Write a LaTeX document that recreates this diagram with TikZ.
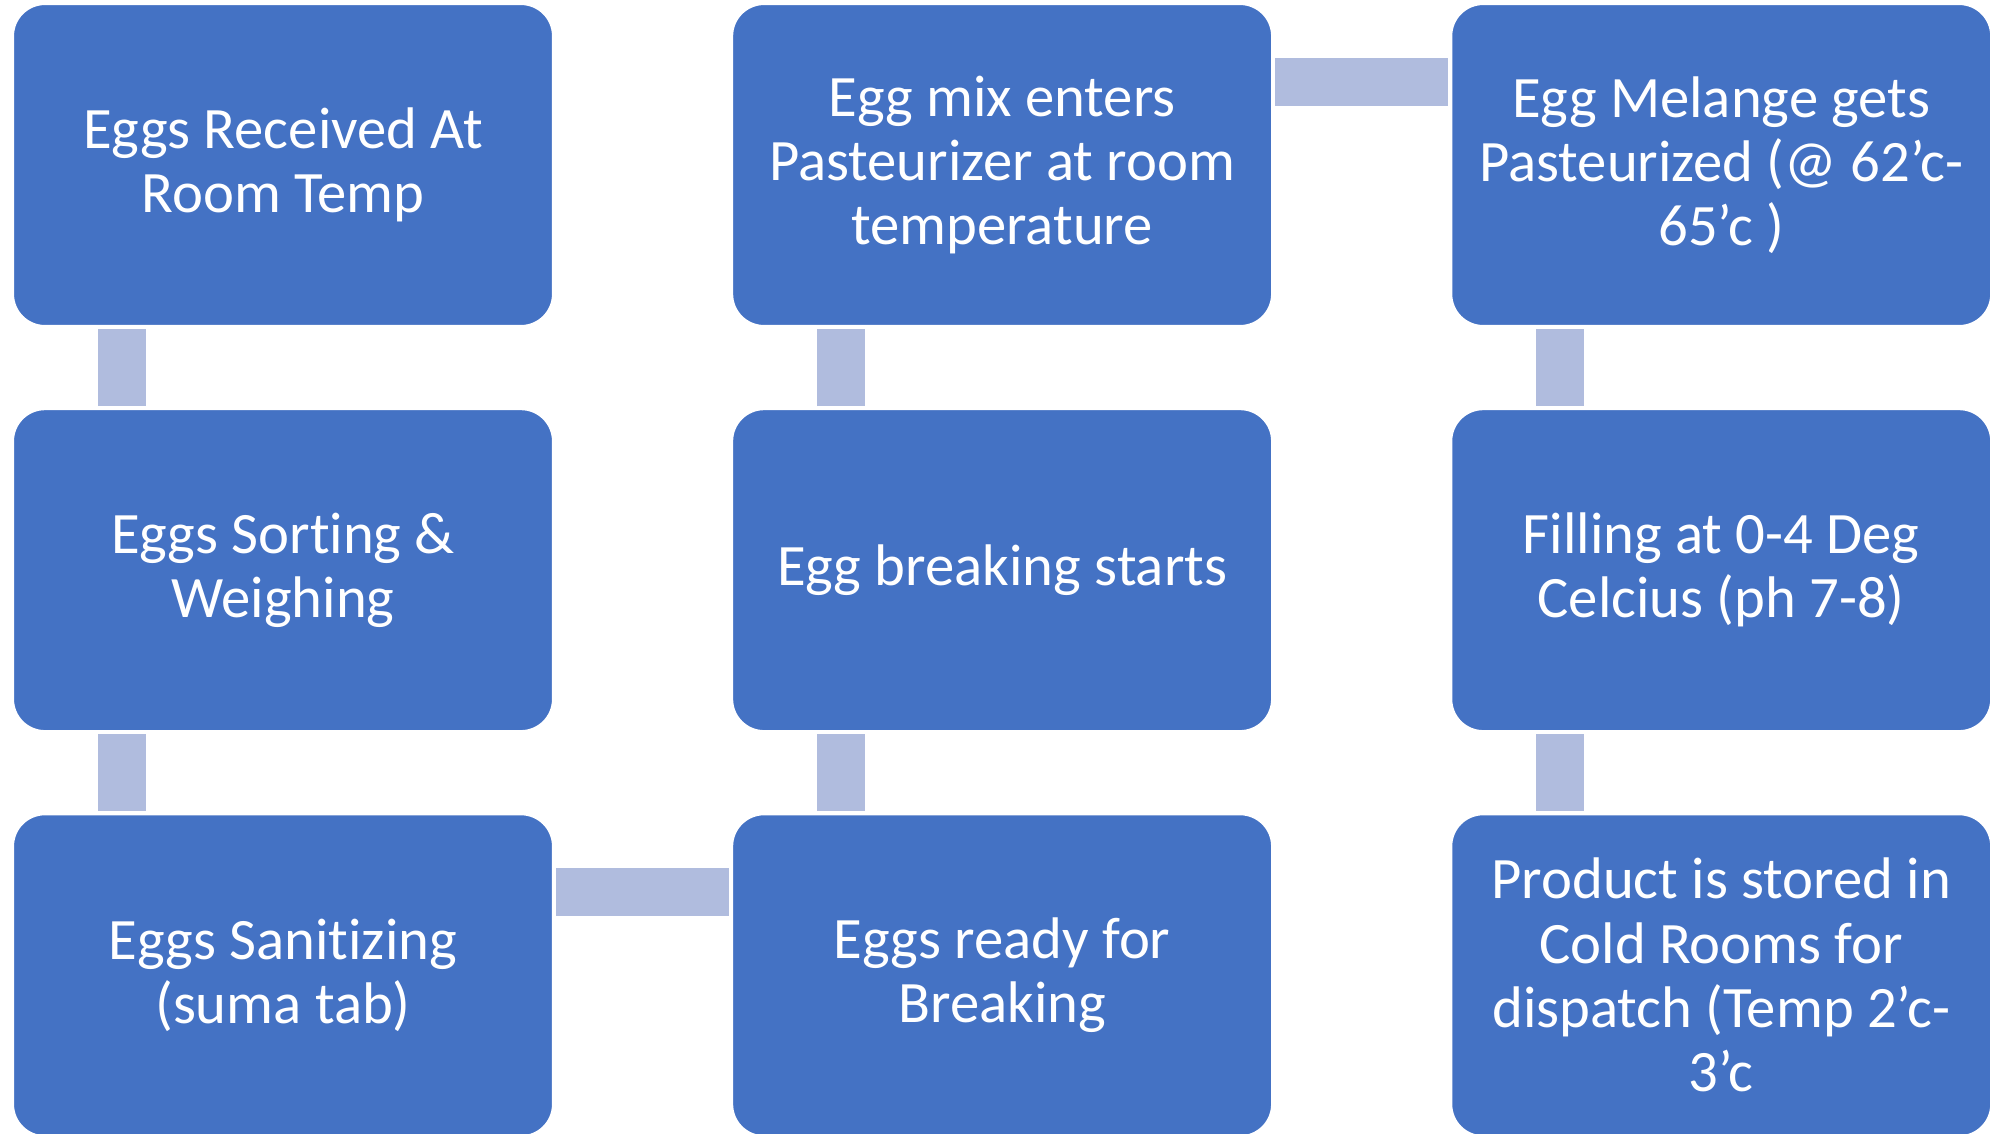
\documentclass[tikz,border=0pt]{standalone}
\usepackage{fontspec}
\setmainfont{Carlito}[Ligatures={NoCommon}]
\usetikzlibrary{positioning}

\definecolor{stepblue}{HTML}{4472C4}
\definecolor{linkblue}{HTML}{B0BCDE}

\begin{document}
\begin{tikzpicture}[
    stepbox/.style={rectangle, rounded corners=0.32cm, fill=stepblue, draw=white,
        line width=0.6pt, text=white, minimum width=5.4cm, minimum height=3.22cm,
        align=center, inner sep=0pt, font=\fontsize{16.7}{18.3}\selectfont},
    link/.style={draw=linkblue, line width=0.48cm, shorten <=0.02cm, shorten >=0.02cm}
]

    % Fix the page to the size of the reference
    \useasboundingbox (0,0) rectangle (19.9,-11.33);

    % Offsets of the connectors from the box centres
    \def\vshift{-1.61cm} % vertical links sit left of centre
    \def\hshift{0.83cm}  % horizontal links sit above centre

    % First column
    \node[stepbox] (recv) at (2.83,-1.65) {Eggs Received At\\Room Temp};
    \node[stepbox, below=0.81cm of recv] (sort) {Eggs Sorting \&\\Weighing};
    \node[stepbox, below=0.81cm of sort] (sanit) {Eggs Sanitizing\\(suma tab)};

    % Second column
    \node[stepbox, right=1.77cm of sanit] (ready) {Eggs ready for\\Breaking};
    \node[stepbox, above=0.81cm of ready] (brk) {Egg breaking starts};
    \node[stepbox, above=0.81cm of brk] (mix) {Egg mix enters\\Pasteurizer at room\\temperature};

    % Third column
    \node[stepbox, right=1.77cm of mix] (past) {Egg Melange gets\\Pasteurized (@ 62’c-\\65’c )};
    \node[stepbox, below=0.81cm of past] (fill) {Filling at 0-4 Deg\\Celcius (ph 7-8)};
    \node[stepbox, below=0.81cm of fill] (store) {Product is stored in\\Cold Rooms for\\dispatch (Temp 2’c-\\3’c};

    % Connectors between the steps
    \draw[link] ([xshift=\vshift]recv.south) -- ([xshift=\vshift]sort.north);
    \draw[link] ([xshift=\vshift]sort.south) -- ([xshift=\vshift]sanit.north);
    \draw[link] ([yshift=\hshift]sanit.east) -- ([yshift=\hshift]ready.west);
    \draw[link] ([xshift=\vshift]ready.north) -- ([xshift=\vshift]brk.south);
    \draw[link] ([xshift=\vshift]brk.north) -- ([xshift=\vshift]mix.south);
    \draw[link] ([yshift=\hshift]mix.east) -- ([yshift=\hshift]past.west);
    \draw[link] ([xshift=\vshift]past.south) -- ([xshift=\vshift]fill.north);
    \draw[link] ([xshift=\vshift]fill.south) -- ([xshift=\vshift]store.north);

\end{tikzpicture}
\end{document}
